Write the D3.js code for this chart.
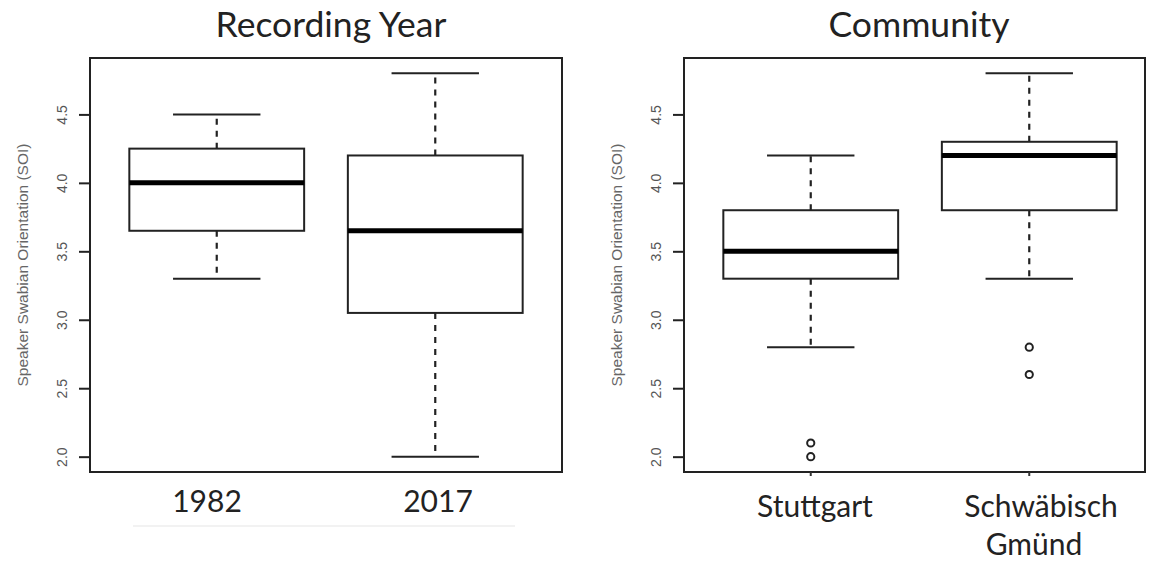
<!DOCTYPE html>
<html><head><meta charset="utf-8">
<script src="https://cdn.jsdelivr.net/npm/d3@7"></script>
<style>body{margin:0;background:#fff}svg{display:block}</style>
</head><body>
<script>
// ---- data ----
const yearCategories = ["1982", "2017"];
const yearStats = [ // [lowerWhisker, q1, median, q3, upperWhisker]
  [3.3, 3.65, 4.0, 4.25, 4.5],
  [2.0, 3.05, 3.65, 4.2, 4.8]
];
const yearOutliers = [[], []];
const communityCategories = ["Stuttgart", "Schwäbisch Gmünd"];
const communityStats = [
  [2.8, 3.3, 3.5, 3.8, 4.2],
  [3.3, 3.8, 4.2, 4.3, 4.8]
];
const communityOutliers = [[2.0, 2.1], [2.6, 2.8]];
const yTicks = [2.0, 2.5, 3.0, 3.5, 4.0, 4.5];
const panelTitles = ["Recording Year", "Community"];
const yAxisTitle = "Speaker Swabian Orientation (SOI)";

const W = 1150, H = 569;
const svg = d3.select("body").append("svg").attr("width", W).attr("height", H);

const y = d3.scaleLinear().domain([1.888, 4.912]).range([472, 58]);

function panel(opts) {
  const g = svg.append("g");
  const x = d3.scaleLinear().domain([0.42, 2.58]).range([opts.left, opts.left + 472]);
  const right = opts.frameRight;
  // y axis
  const ax = g.append("g").attr("transform", `translate(${opts.left - 1},0)`)
    .call(d3.axisLeft(y).tickValues(yTicks).tickFormat(d3.format(".1f")).tickSize(10).tickPadding(8));
  ax.select(".domain").remove();
  ax.selectAll(".tick line").attr("stroke", "#222").attr("stroke-width", 2);
  ax.selectAll(".tick text")
    .attr("font-family", "Liberation Sans, Arial, sans-serif").attr("font-size", 14).attr("fill", "#555")
    .attr("text-anchor", "middle").attr("dy", 0)
    .attr("transform", "rotate(-90)").attr("x", 0).attr("y", -22);
  // y axis title
  g.append("text").attr("transform", `translate(${opts.left - 62},265) rotate(-90)`)
    .attr("text-anchor", "middle").attr("font-family", "Liberation Sans, Arial, sans-serif")
    .attr("font-size", 15.5).attr("fill", "#666").text(yAxisTitle);
  // frame
  g.append("rect").attr("x", opts.left).attr("y", 58).attr("width", right - opts.left).attr("height", 414)
    .attr("fill", "none").attr("stroke", "#222").attr("stroke-width", 2);
  // boxes
  opts.stats.forEach((s, i) => {
    const cx = x(i + 1), hw = x(1.4) - x(1), cw = x(1.2) - x(1);
    const b = g.append("g");
    b.append("line").attr("x1", cx).attr("x2", cx).attr("y1", y(s[3])).attr("y2", y(s[4]))
      .attr("stroke", "#222").attr("stroke-width", 2.2).attr("stroke-dasharray", "6,6");
    b.append("line").attr("x1", cx).attr("x2", cx).attr("y1", y(s[1])).attr("y2", y(s[0]))
      .attr("stroke", "#222").attr("stroke-width", 2.2).attr("stroke-dasharray", "6,6");
    [s[0], s[4]].forEach(v => b.append("line").attr("x1", cx - cw).attr("x2", cx + cw)
      .attr("y1", y(v)).attr("y2", y(v)).attr("stroke", "#222").attr("stroke-width", 2));
    b.append("rect").attr("x", cx - hw).attr("width", 2 * hw).attr("y", y(s[3])).attr("height", y(s[1]) - y(s[3]))
      .attr("fill", "#fff").attr("stroke", "#222").attr("stroke-width", 2);
    b.append("line").attr("x1", cx - hw).attr("x2", cx + hw).attr("y1", y(s[2])).attr("y2", y(s[2]))
      .attr("stroke", "#000").attr("stroke-width", 5);
    opts.outliers[i].forEach(v => b.append("circle").attr("cx", cx).attr("cy", y(v)).attr("r", 3.6)
      .attr("fill", "none").attr("stroke", "#222").attr("stroke-width", 2));
    if (opts.xticks) b.append("line").attr("x1", cx).attr("x2", cx).attr("y1", 472).attr("y2", 476)
      .attr("stroke", "#333").attr("stroke-width", 2);
  });
  // title
  g.append("text").attr("x", opts.titleX).attr("y", 37).attr("text-anchor", "middle")
    .attr("font-family", "Lato, Carlito, sans-serif").attr("font-size", 35.5).attr("fill", "#222").text(opts.title);
  // category labels
  opts.labels.forEach(l => {
    g.append("text").attr("x", l.x).attr("y", l.y).attr("text-anchor", "middle")
      .attr("font-family", "Lato, Carlito, sans-serif").attr("font-size", 30).attr("fill", "#222").text(l.t);
  });
}

panel({left: 90, frameRight: 562, stats: yearStats, outliers: yearOutliers, title: panelTitles[0], titleX: 331,
  labels: [{t: yearCategories[0], x: 207, y: 512}, {t: yearCategories[1], x: 438, y: 512}]});
const cw = communityCategories[1].split(" ");
panel({left: 684, frameRight: 1145, stats: communityStats, outliers: communityOutliers, title: panelTitles[1], titleX: 919, xticks: true,
  labels: [{t: communityCategories[0], x: 815, y: 517}, {t: cw[0], x: 1041, y: 517}, {t: cw[1], x: 1034, y: 555}]});

// faint artifact line under left panel labels
svg.append("line").attr("x1", 133).attr("x2", 515).attr("y1", 526).attr("y2", 526)
  .attr("stroke", "#eee").attr("stroke-width", 1.5);
</script>
</body></html>
